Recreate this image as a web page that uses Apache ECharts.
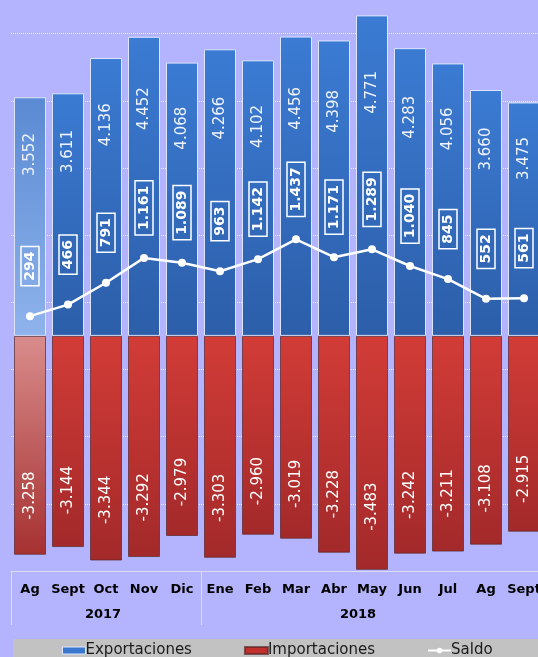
<!DOCTYPE html>
<html><head><meta charset="utf-8">
<script src="https://cdn.jsdelivr.net/npm/echarts@6/dist/echarts.min.js"></script>
<style>html,body{margin:0;padding:0;background:#b4b4fe;overflow:hidden;} #c{width:545px;height:657px;}</style>
</head><body><div id="c"></div>
<script>
const months = ['Ag','Sept','Oct','Nov','Dic','Ene','Feb','Mar','Abr','May','Jun','Jul','Ag','Sept'];
const years = ['2017','2017','2017','2017','2017','2018','2018','2018','2018','2018','2018','2018','2018','2018'];
const exportaciones = [3552,3611,4136,4452,4068,4266,4102,4456,4398,4771,4283,4056,3660,3475];
const importaciones = [-3258,-3144,-3344,-3292,-2979,-3303,-2960,-3019,-3228,-3483,-3242,-3211,-3108,-2915];
const saldo = [294,466,791,1161,1089,963,1142,1437,1171,1289,1040,845,552,561];

function fmt(v){
  const a = Math.abs(v).toString();
  const t = a.length > 3 ? a.slice(0,-3) + '.' + a.slice(-3) : a;
  return (v < 0 ? '-' : '') + t;
}
const G = echarts.graphic.LinearGradient;
const blueGrad = new G(0,0,0,1,[{offset:0,color:'#3b7bd3'},{offset:1,color:'#2c5ea9'}]);
const blueFade = new G(0,0,0,1,[{offset:0,color:'#5a8ad3'},{offset:1,color:'#8fb3ec'}]);
const redGrad = new G(0,0,0,1,[{offset:0,color:'#d23c37'},{offset:1,color:'#a3292a'}]);
const redFade = new G(0,0,0,1,[{offset:0,color:'#d98c8c'},{offset:1,color:'#a63131'}]);

const expData = exportaciones.map((v,i)=>({value:v, itemStyle:{color: i===0 ? blueFade : blueGrad}}));
const impData = importaciones.map((v,i)=>({value:v, itemStyle:{color: i===0 ? redFade : redGrad}}));

const lightLine = '#dcdcf6';
const yearFont = {color:'#000', fontWeight:'bold', fontSize:13, fontFamily:'DejaVu Sans'};
const chart = echarts.init(document.getElementById('c'));
chart.setOption({
  backgroundColor:'#b4b4fe',
  animation:false,
  textStyle:{fontFamily:'DejaVu Sans'},
  grid:{left:11, right:2, top:0, bottom:86, containLabel:false},
  graphic:[{type:'rect', z:0, shape:{x:13,y:639,width:540,height:30}, style:{fill:'#c2c2c2'}}],
  legend:{
    z:10, left:62, top:643, padding:0, itemGap:52, itemWidth:23, itemHeight:7,
    textStyle:{fontSize:15, color:'#1a1a1a', fontFamily:'DejaVu Sans', padding:[0,0,0,-5]},
    data:[
      {name:'Exportaciones', icon:'rect', itemStyle:{color:'#3a78d0', borderColor:'#dce6ff', borderWidth:1}},
      {name:'Importaciones', icon:'rect', itemStyle:{color:'#c2302e'}},
      {name:'Saldo'}
    ]
  },
  xAxis:[
    {type:'category', data:months, boundaryGap:true,
     axisLine:{show:true, onZero:false, lineStyle:{color:lightLine, width:1}},
     axisTick:{show:false},
     axisLabel:{interval:0, margin:12, color:'#000', fontWeight:'bold', fontSize:13, fontFamily:'DejaVu Sans'}},
    {type:'category', data:years, position:'bottom', boundaryGap:true,
     axisLine:{show:true, onZero:false, lineStyle:{color:lightLine, width:1}},
     axisTick:{show:true, interval:(i)=> i===0 || i===5, length:54, lineStyle:{color:lightLine, width:1}},
     axisLabel:Object.assign({interval:(i)=> i===2 || i===9, margin:37,
       formatter:(v,i)=> i===9 ? '{s|'+v+'}' : '{n|'+v+'}',
       rich:{s:Object.assign({padding:[0,28,0,0]}, yearFont), n:Object.assign({padding:[0,6,0,0]}, yearFont)}}, yearFont)}
  ],
  yAxis:[
    {type:'value', min:-3500, max:5000, show:false, splitLine:{show:false}},
    {type:'value', min:-3000, max:5500, interval:1000, position:'left',
     axisLine:{show:false}, axisTick:{show:false}, axisLabel:{show:false},
     splitLine:{show:true, showMinLine:false, showMaxLine:false, lineStyle:{color:'#eeeeff', type:'dotted', width:1}}}
  ],
  series:[
    {name:'Exportaciones', type:'bar', xAxisIndex:0, yAxisIndex:0, data:expData,
     barWidth:32, barGap:'-100%', z:3,
     itemStyle:{color:'#3a78d0', borderColor:'#dce6ff', borderWidth:1},
     label:{show:true, position:['50%','24%'], rotate:90, align:'center', verticalAlign:'middle',
       color:'#eef3ff', fontSize:15, fontFamily:'DejaVu Sans', formatter:p=>fmt(p.value)}},
    {name:'Importaciones', type:'bar', xAxisIndex:0, yAxisIndex:0, data:impData,
     barWidth:32, barGap:'-100%', z:3,
     itemStyle:{color:'#c2302e', borderColor:'rgba(90,40,40,0.7)', borderWidth:1},
     label:{show:true, position:['50%','73%'], rotate:90, align:'center', verticalAlign:'middle',
       color:'#fff', fontSize:15, fontFamily:'DejaVu Sans', formatter:p=>fmt(p.value)}},
    {name:'Saldo', type:'line', xAxisIndex:0, yAxisIndex:0, data:saldo, z:5,
     symbol:'circle', symbolSize:8,
     itemStyle:{color:'#ffffff'}, lineStyle:{color:'#ffffff', width:2.5},
     label:{show:true, position:'inside', rotate:90, offset:[50,0], align:'center', verticalAlign:'middle',
       color:'#fff', fontWeight:'bold', fontSize:14, fontFamily:'DejaVu Sans',
       borderColor:'#ffffff', borderWidth:1.5, padding:[3,5,1,5], formatter:p=>fmt(p.value)}}
  ]
});
</script></body></html>
